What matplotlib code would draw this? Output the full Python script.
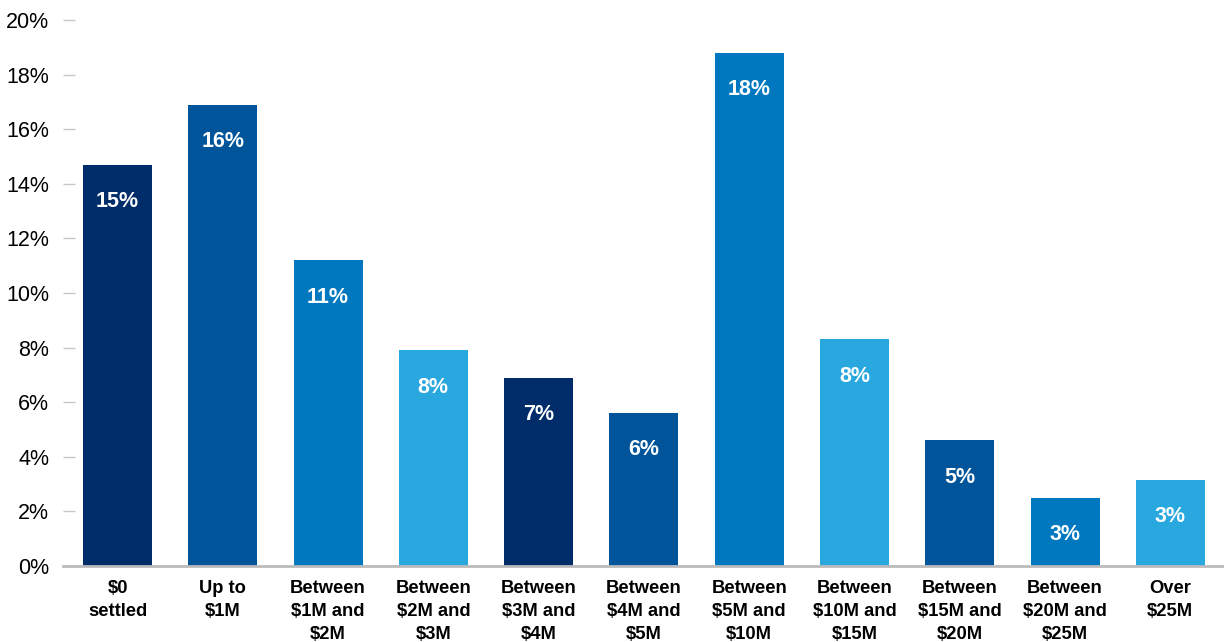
import matplotlib.pyplot as plt

# data
categories = ['$0\nsettled', 'Up to\n$1M', 'Between\n$1M and\n$2M', 'Between\n$2M and\n$3M',
              'Between\n$3M and\n$4M', 'Between\n$4M and\n$5M', 'Between\n$5M and\n$10M',
              'Between\n$10M and\n$15M', 'Between\n$15M and\n$20M', 'Between\n$20M and\n$25M',
              'Over\n$25M']
values = [14.7, 16.9, 11.2, 7.9, 6.9, 5.6, 18.8, 8.3, 4.6, 2.5, 3.15]
labels = ['15%', '16%', '11%', '8%', '7%', '6%', '18%', '8%', '5%', '3%', '3%']
yticks = [0, 2, 4, 6, 8, 10, 12, 14, 16, 18, 20]

NAVY = '#002C69'
MID = '#00559A'
BLUE = '#0078C0'
LIGHT = '#29A8E0'
colors = [NAVY, MID, BLUE, LIGHT, NAVY, MID, BLUE, LIGHT, MID, BLUE, LIGHT]

plt.rcParams['font.family'] = ['Liberation Sans', 'DejaVu Sans']

fig = plt.figure(figsize=(12.24, 6.42), dpi=100)
ax = fig.add_axes([63 / 1224, 76 / 642, (1224 - 63) / 1224, (566 - 20) / 642])

x = list(range(len(categories)))
bars = ax.bar(x, values, width=0.655, color=colors, zorder=2)

# value labels inside the top of each bar
for b, lab in zip(bars, labels):
    ax.annotate(lab, (b.get_x() + b.get_width() / 2, b.get_height()),
                xytext=(0, -26.5), textcoords='offset points',
                ha='center', va='center', color='white',
                fontsize=15.5, fontweight='bold')

ax.set_xlim(-0.518, 10.51)
ax.set_ylim(0, 20)
ax.set_yticks(yticks)
ax.set_yticklabels([f'{t}%' for t in yticks], fontsize=15.5)
ax.set_xticks(x)
ax.set_xticklabels(categories, fontsize=13.2, fontweight='bold', linespacing=1.45, va='top')

for s in ['top', 'right', 'left']:
    ax.spines[s].set_visible(False)
ax.spines['bottom'].set_color('#BBBBBB')
ax.spines['bottom'].set_linewidth(2)
ax.spines['bottom'].set_zorder(3)

ax.tick_params(axis='y', direction='in', length=8.6, width=1, color='#C8C8C8', pad=10)
ax.tick_params(axis='x', length=0, pad=10)

fig.savefig('out.png', dpi=100)
